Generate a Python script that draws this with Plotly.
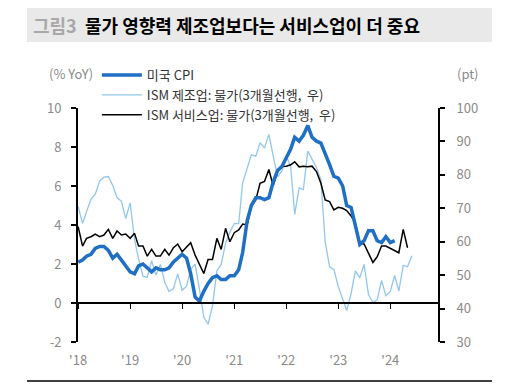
import plotly.graph_objects as go
import pandas as pd

# ---------------- data ----------------
cpi_start = "2018-01-01"
cpi = [2.1, 2.2, 2.4, 2.5, 2.8, 2.9, 2.9, 2.7, 2.3, 2.5, 2.2, 1.9,
       1.6, 1.5, 1.9, 2.0, 1.8, 1.6, 1.8, 1.7, 1.7, 1.8, 2.1, 2.3,
       2.5, 2.3, 1.5, 0.3, 0.1, 0.6, 1.0, 1.3, 1.4, 1.2, 1.2, 1.4,
       1.4, 1.7, 2.6, 4.2, 5.0, 5.4, 5.4, 5.3, 5.4, 6.2, 6.8, 7.0,
       7.5, 7.9, 8.5, 8.3, 8.6, 9.1, 8.5, 8.3, 8.2, 7.7, 7.1, 6.5,
       6.4, 6.0, 5.0, 4.9, 4.0, 3.0, 3.2, 3.7, 3.7, 3.2, 3.1, 3.4,
       3.1, 3.2]

# ISM manufacturing prices, plotted with 3-month lead
ism_mfg = [70.5, 65.5, 69.0,
           72.7, 74.2, 78.1, 79.3, 79.5, 76.8, 73.2, 72.1, 66.9, 71.6, 60.7, 54.9,
           49.6, 49.4, 54.3, 50.0, 53.2, 47.9, 45.1, 46.0, 50.4, 45.5, 46.7, 51.7,
           53.3, 45.9, 37.4, 35.3, 40.8, 51.3, 53.2, 59.5, 62.8, 65.5, 65.4, 77.6,
           82.1, 86.0, 85.6, 89.6, 88.0, 92.1, 85.7, 79.4, 81.2, 85.7, 82.4, 68.2,
           76.1, 75.6, 87.1, 84.6, 82.2, 78.5, 60.0, 52.5, 51.7, 46.6, 43.0, 39.4,
           44.5, 51.3, 49.2, 53.2, 44.2, 41.8, 42.6, 48.4, 43.8, 45.1, 49.9, 45.2,
           52.9, 52.5, 55.8]

# ISM services prices, plotted with 3-month lead
ism_svc = [64.5, 58.7, 61.0, 61.5, 62.3, 61.5, 62.0, 63.7, 61.0, 63.2, 62.0, 62.3,
           61.0, 62.5, 58.7, 58.7, 55.7, 57.7, 55.7, 55.7, 57.7, 56.0, 58.2, 59.3,
           57.0, 58.5, 59.7, 56.0, 53.5, 50.5, 54.7, 54.7, 61.0, 57.7, 64.0, 60.0,
           62.7, 63.5, 65.3, 65.0, 70.5, 72.5, 77.5, 78.0, 81.6, 76.7, 81.0, 82.5,
           82.6, 83.0, 83.9, 82.4, 82.6, 82.4, 82.6, 81.0, 77.5, 72.5, 72.0, 69.5,
           70.3, 70.0, 69.3, 67.7, 65.5, 59.5, 59.3, 56.5, 53.8, 55.5, 58.7, 58.7,
           58.0, 57.5, 56.7, 63.7, 58.2]

year_ticks = ["2018-01-01", "2019-01-01", "2020-01-01", "2021-01-01",
              "2022-01-01", "2023-01-01", "2024-01-01"]
year_labels = ["'18", "'19", "'20", "'21", "'22", "'23", "'24"]
left_ticks = [-2, 0, 2, 4, 6, 8, 10]
left_labels = ["-2", "0", "2", "4", "6", "8", "10"]

names = ["미국 CPI", "ISM 제조업: 물가(3개월선행,  우)", "ISM 서비스업: 물가(3개월선행,  우)"]
title_tag = "그림3"
title_text = "물가 영향력 제조업보다는 서비스업이 더 중요"

d_cpi = pd.date_range(cpi_start, periods=len(cpi), freq="MS")
d_mfg = pd.date_range(cpi_start, periods=len(ism_mfg), freq="MS")
d_svc = pd.date_range(cpi_start, periods=len(ism_svc), freq="MS")

FONT = "Noto Sans CJK KR"
GRAY = "#8a8a8a"
BLUE = "#1f6fc5"
LIGHT = "#92c6ed"

fig = go.Figure()
fig.add_trace(go.Scatter(x=d_mfg, y=ism_mfg, mode="lines", name=names[1],
                         line=dict(color=LIGHT, width=1.3), xaxis="x", yaxis="y",
                         legendrank=2))
fig.add_trace(go.Scatter(x=d_svc, y=ism_svc, mode="lines", name=names[2],
                         line=dict(color="#000000", width=1.5), xaxis="x", yaxis="y",
                         legendrank=3))
fig.add_trace(go.Scatter(x=d_cpi, y=cpi, mode="lines", name=names[0],
                         line=dict(color=BLUE, width=3.5), xaxis="x2", yaxis="y2",
                         legendrank=1))

xrange = ["2017-12-24", "2024-12-01"]

fig.update_layout(
    width=509, height=384,
    margin=dict(l=77, r=71, t=108, b=42),
    paper_bgcolor="white", plot_bgcolor="white",
    font=dict(family=FONT, size=13, color=GRAY),
    showlegend=True,
    legend=dict(x=0.055, y=1.205, xanchor="left", yanchor="top",
                bgcolor="rgba(0,0,0,0)", font=dict(family=FONT, size=13, color="#333333"),
                traceorder="normal", itemwidth=40),
    xaxis=dict(range=xrange, type="date", tickvals=year_ticks, ticktext=year_labels,
               showline=False, ticks="", showgrid=False, zeroline=False,
               tickfont=dict(family=FONT, size=13, color=GRAY), ticklabelstandoff=9),
    xaxis2=dict(range=xrange, type="date", matches="x", overlaying="x", anchor="free",
                position=2 / 12, tickvals=year_ticks, showticklabels=False,
                ticks="outside", ticklen=5, tickwidth=1.2, tickcolor="#000000",
                showline=True, linecolor="#000000", linewidth=1.5, showgrid=False,
                zeroline=False),
    yaxis=dict(range=[30, 100], dtick=10, side="right", anchor="x",
               showline=True, linecolor="#000000", linewidth=1.8,
               ticks="outside", ticklen=5, tickwidth=1.5, tickcolor="#000000",
               showgrid=False, zeroline=False, ticklabelstandoff=9,
               tickfont=dict(family=FONT, size=13, color=GRAY)),
    yaxis2=dict(range=[-2, 10], tickvals=left_ticks, ticktext=left_labels,
                side="left", overlaying="y", anchor="free",
                position=0, showline=True, linecolor="#000000", linewidth=1.8,
                ticks="outside", ticklen=5, tickwidth=1.5, tickcolor="#000000",
                showgrid=False, zeroline=False, ticklabelstandoff=7,
                tickfont=dict(family=FONT, size=13, color=GRAY)),
)

# title band
fig.add_shape(type="rect", xref="paper", yref="paper",
              x0=(27 - 77) / 361, x1=(492 - 77) / 361,
              y0=(342 - 42) / 234, y1=(342 - 8) / 234,
              fillcolor="#e9e9e9", line=dict(width=0), layer="below")
fig.add_annotation(xref="paper", yref="paper", x=(31 - 77) / 361, y=(342 - 25) / 234,
                   xanchor="left", yanchor="middle", showarrow=False,
                   text=f"<b><span style='color:#a8a8a8'>{title_tag}</span>&nbsp; {title_text}</b>",
                   font=dict(family=FONT, size=18, color="#000000"))
# axis unit labels
fig.add_annotation(xref="paper", yref="paper", x=(71 - 77) / 361, y=(342 - 73) / 234,
                   xanchor="center", yanchor="middle", showarrow=False,
                   text="(% YoY)", font=dict(family=FONT, size=13, color=GRAY))
fig.add_annotation(xref="paper", yref="paper", x=(468 - 77) / 361, y=(342 - 73) / 234,
                   xanchor="center", yanchor="middle", showarrow=False,
                   text="(pt)", font=dict(family=FONT, size=13, color=GRAY))
# bottom rule
fig.add_shape(type="line", xref="paper", yref="paper",
              x0=(27 - 77) / 361, x1=(492 - 77) / 361,
              y0=(342 - 381) / 234, y1=(342 - 381) / 234,
              line=dict(color="#000000", width=1.5))

fig.write_html("out.html", config={"displayModeBar": False},
               post_script="document.body.style.margin='0';document.body.style.overflow='hidden';")
